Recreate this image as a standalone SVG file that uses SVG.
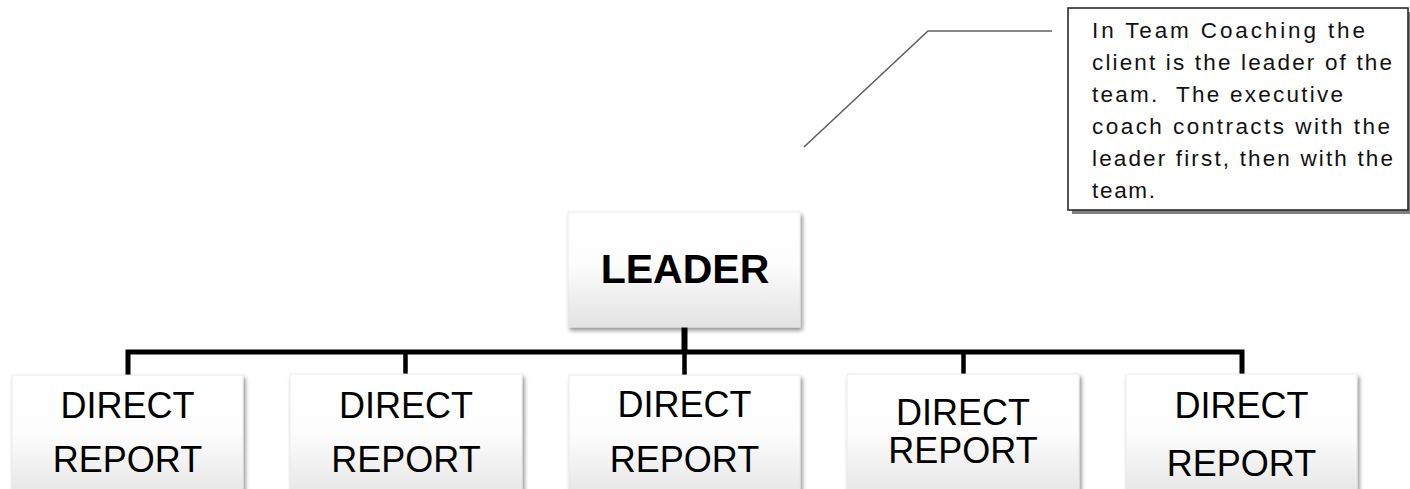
<svg xmlns="http://www.w3.org/2000/svg" width="1410" height="489" viewBox="0 0 1410 489">
  <defs>
    <linearGradient id="boxFill" x1="0" y1="0" x2="0" y2="1">
      <stop offset="0" stop-color="#ffffff"/>
      <stop offset="0.45" stop-color="#fdfdfd"/>
      <stop offset="1" stop-color="#e2e2e2"/>
    </linearGradient>
    <filter id="softShadow" x="-10%" y="-10%" width="125%" height="130%">
      <feGaussianBlur in="SourceAlpha" stdDeviation="2.2"/>
      <feOffset dx="2" dy="3" result="blur"/>
      <feComponentTransfer>
        <feFuncA type="linear" slope="0.45"/>
      </feComponentTransfer>
      <feMerge>
        <feMergeNode/>
        <feMergeNode in="SourceGraphic"/>
      </feMerge>
    </filter>
    <style>
      .box { fill: url(#boxFill); stroke: #e6e6e6; stroke-width: 0.8; filter: url(#softShadow); }
      .lbl { font-family: "Liberation Sans", Arial, sans-serif; font-size: 36px; fill: #000; text-anchor: middle; }
      .lead { font-family: "Liberation Sans", Arial, sans-serif; font-size: 41px; font-weight: bold; fill: #000; text-anchor: middle; }
      .wire { fill: none; stroke: #000; stroke-linejoin: miter; stroke-linecap: butt; }
      .note { font-family: "Liberation Sans", Arial, sans-serif; font-size: 22.5px; fill: #111; white-space: pre; }
      .pointer { fill: none; stroke: #606060; stroke-width: 1.6; }
    </style>
  </defs>

  <rect width="1410" height="489" fill="#ffffff"/>

  <!-- connectors -->
  <g id="connectors">
    <path class="wire" stroke-width="5" d="M128 376 V352 H1242 V376"/>
    <path class="wire" stroke-width="6" d="M684.5 327 V352"/>
    <path class="wire" stroke-width="4.5" d="M405.5 352 V376 M684.5 352 V376 M963.5 352 V376"/>
    <path class="pointer" d="M804 147 L928 31 H1052"/>
  </g>

  <!-- callout note -->
  <g id="note">
    <rect x="1072" y="12" width="340" height="202" fill="#808080"/>
    <rect x="1068" y="8" width="340" height="202" fill="#ffffff" stroke="#2a2a2a" stroke-width="1.6"/>
    <text class="note" x="1092" y="38" textLength="273" lengthAdjust="spacing">In Team Coaching the</text>
    <text class="note" x="1092" y="70" textLength="300" lengthAdjust="spacing">client is the leader of the</text>
    <text class="note" x="1092" y="102" textLength="251" lengthAdjust="spacing" xml:space="preserve">team.  The executive</text>
    <text class="note" x="1092" y="134" textLength="298" lengthAdjust="spacing">coach contracts with the</text>
    <text class="note" x="1092" y="166" textLength="301" lengthAdjust="spacing">leader first, then with the</text>
    <text class="note" x="1092" y="198" textLength="63" lengthAdjust="spacing">team.</text>
  </g>

  <!-- leader -->
  <g id="leader">
    <rect class="box" x="568" y="212" width="232" height="115"/>
    <text class="lead" x="685" y="283">LEADER</text>
  </g>

  <!-- direct reports -->
  <g id="report1">
    <rect class="box" x="12" y="375" width="231" height="130"/>
    <text class="lbl" x="127.5" y="418">DIRECT</text>
    <text class="lbl" x="127.5" y="472">REPORT</text>
  </g>
  <g id="report2">
    <rect class="box" x="290" y="374" width="232" height="130"/>
    <text class="lbl" x="406" y="418">DIRECT</text>
    <text class="lbl" x="406" y="472">REPORT</text>
  </g>
  <g id="report3">
    <rect class="box" x="569" y="375" width="231" height="130"/>
    <text class="lbl" x="684.5" y="417">DIRECT</text>
    <text class="lbl" x="684.5" y="472">REPORT</text>
  </g>
  <g id="report4">
    <rect class="box" x="847" y="374" width="232" height="130"/>
    <text class="lbl" x="963" y="425">DIRECT</text>
    <text class="lbl" x="963" y="463">REPORT</text>
  </g>
  <g id="report5">
    <rect class="box" x="1126" y="374" width="231" height="130"/>
    <text class="lbl" x="1241.5" y="418">DIRECT</text>
    <text class="lbl" x="1241.5" y="476">REPORT</text>
  </g>
</svg>
